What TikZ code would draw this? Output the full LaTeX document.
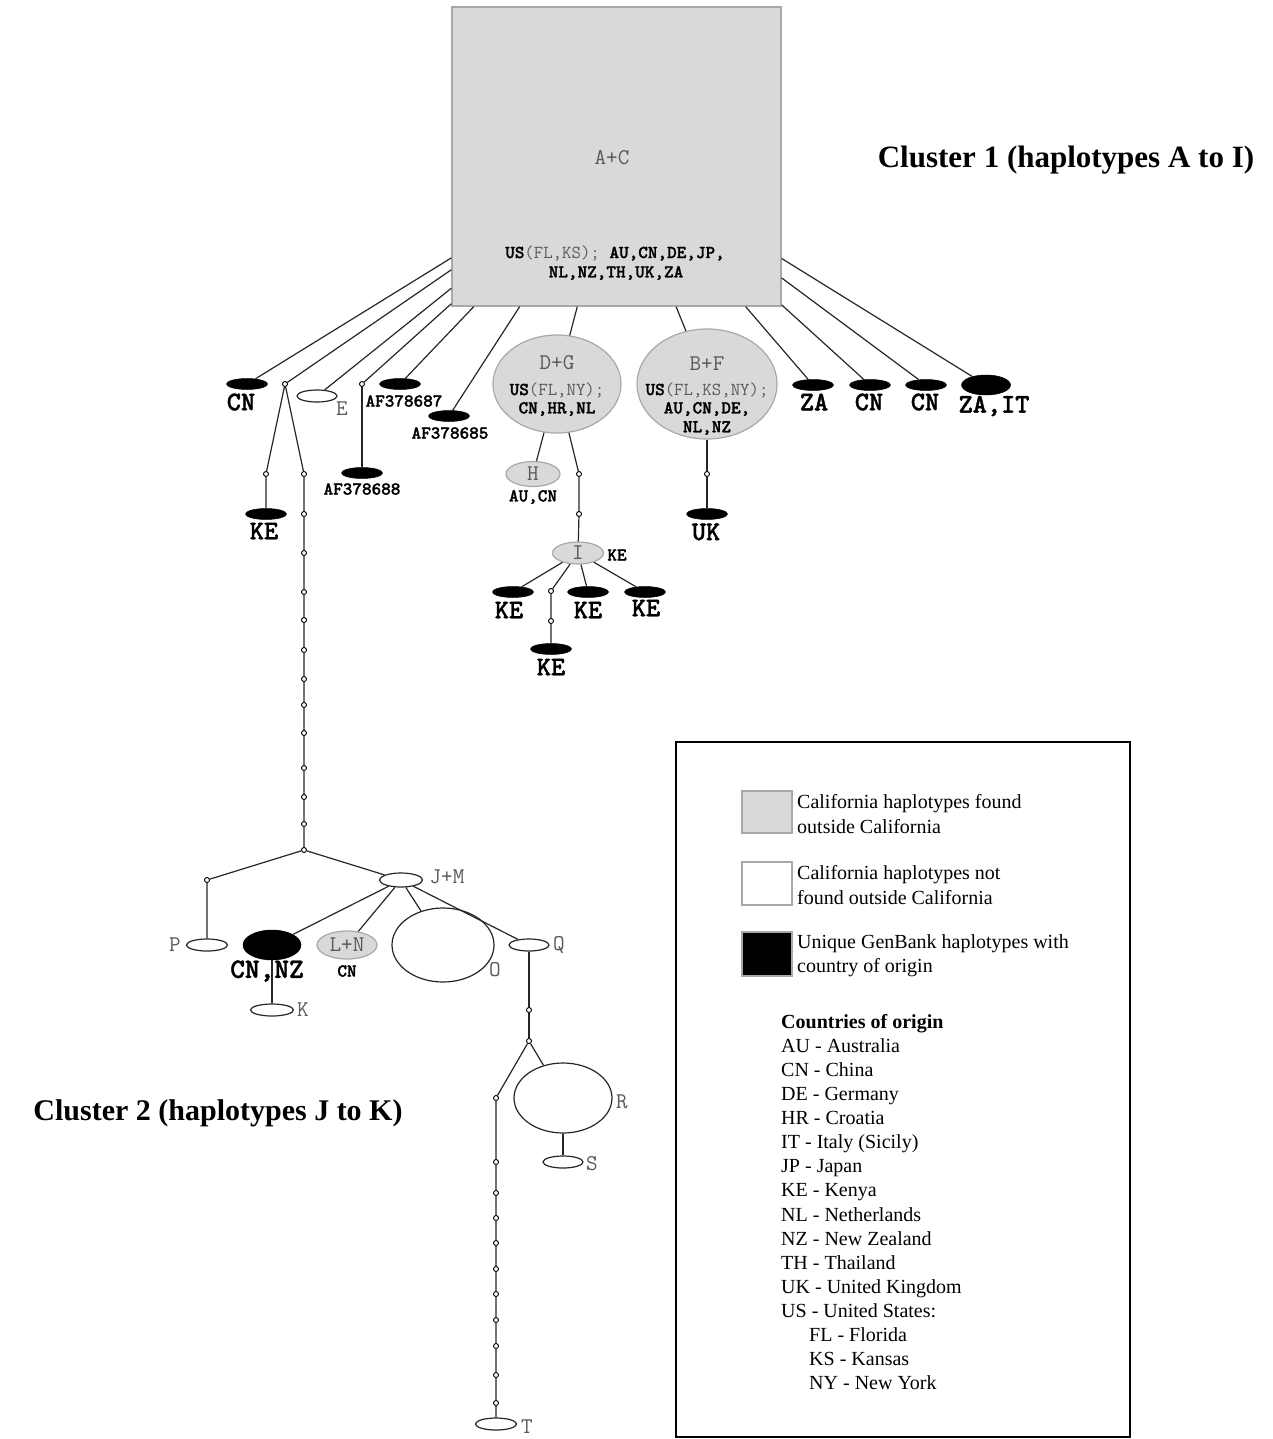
\documentclass[tikz,border=0pt]{standalone}
\usepackage{fontspec}
\setmainfont{Liberation Serif}
\newfontfamily\ttbf{lmmonolt10-bold.otf}[FakeBold=1.4]
\usetikzlibrary{shapes.geometric}
\definecolor{hfill}{HTML}{D9D9D9}
\definecolor{hborder}{HTML}{A8A8A8}
\definecolor{hapgray}{HTML}{5A5A5A}
\newcommand\mybig{\ttbf\fontsize{27}{29}\selectfont}
\newcommand\mysmall{\ttbf\fontsize{18.3}{21}\selectfont}
\newcommand\myhap{\ttfamily\mdseries\fontsize{22.5}{24}\selectfont}
\newcommand\myleg{\rmfamily\fontsize{20}{24.2}\selectfont}
\newcommand\myclus{\rmfamily\bfseries\fontsize{30}{34}\selectfont}
\newcommand\gr[1]{{\ttfamily\mdseries\color{hapgray}#1}}
\begin{document}
\begin{tikzpicture}[x=1pt,y=-1pt,
  ln/.style={line width=1.2pt, draw=black!85},
  hg/.style 2 args={ellipse, draw=hborder, fill=hfill, line width=1.2pt, inner sep=0pt, minimum width=#1, minimum height=#2},
  hw/.style 2 args={ellipse, draw=black!85, fill=white, line width=1.2pt, inner sep=0pt, minimum width=#1, minimum height=#2},
  hb/.style 2 args={ellipse, draw=black, fill=black, line width=0.5pt, inner sep=0pt, minimum width=#1, minimum height=#2},
  vdot/.style={circle, draw=black, fill=white, line width=0.9pt, inner sep=0pt, minimum size=5pt},
  hlab/.style={font=\myhap, text=hapgray, inner sep=0pt},
  cbig/.style={font=\mybig, inner sep=0pt},
  csm/.style={font=\mysmall, inner sep=0pt},
  legt/.style={font=\myleg, anchor=west, align=left, inner sep=0pt},
  legbox/.style={line width=2pt, draw=hborder}
]
\useasboundingbox (0,0) rectangle (1273,1439);

% ---------- central square A+C ----------
\node[draw=hborder, fill=hfill, line width=1.3pt, minimum width=329pt, minimum height=299pt, inner sep=0pt] (AC) at (616.5,156.5) {};
\node[hlab] (tAC) at (612,158) {A+C};
\node[csm] (tAC1) at (615,253) {US\gr{(FL,KS);} AU,CN,DE,JP,};
\node[csm] (tAC2) at (616,273) {NL,NZ,TH,UK,ZA};

% ---------- left spokes ----------
\node[hb={41pt}{11pt}] (CN1) at (247,384) {};
\node[cbig] (tCN1) at (241,402) {CN};
\node[vdot] (d1) at (285,384) {};
\node[hw={40pt}{12pt}] (E) at (317,396) {};
\node[hlab] (tE) at (342,409) {E};
\node[vdot] (d2) at (362,384) {};
\node[hb={41pt}{11pt}] (AF7) at (400,384) {};
\node[csm] (tAF7) at (404,401) {AF378687};
\node[hb={41pt}{11pt}] (AF5) at (449,416) {};
\node[csm] (tAF5) at (450,433) {AF378685};
\node[hb={41pt}{11pt}] (AF8) at (362,473) {};
\node[csm] (tAF8) at (362,489) {AF378688};

% ---------- D+G ----------
\node[hg={128pt}{98pt}] (DG) at (557,384) {};
\node[hlab] (tDG) at (557,363) {D+G};
\node[csm] (tDG1) at (557,390) {US\gr{(FL,NY);}};
\node[csm] (tDG2) at (557,409) {CN,HR,NL};
\node[hg={54pt}{25pt}] (H) at (533,474) {};
\node[hlab] (tH) at (533,474) {H};
\node[csm] (tH1) at (533,497) {AU,CN};
\node[vdot] (dI1) at (579,474) {};
\node[vdot] (dI2) at (579,514) {};
\node[hg={51pt}{22pt}] (I) at (578,553) {};
\node[hlab] (tI) at (578,553) {I};
\node[csm] (tI1) at (617,555) {KE};
\node[hb={41pt}{11pt}] (KEa) at (513,592) {};
\node[cbig] (tKEa) at (509,610) {KE};
\node[vdot] (dK1) at (551,591) {};
\node[vdot] (dK2) at (551,621) {};
\node[hb={41pt}{11pt}] (KEb) at (551,649) {};
\node[cbig] (tKEb) at (551,667) {KE};
\node[hb={41pt}{11pt}] (KEc) at (588,592) {};
\node[cbig] (tKEc) at (588,610) {KE};
\node[hb={41pt}{11pt}] (KEd) at (645,592) {};
\node[cbig] (tKEd) at (646,608) {KE};

% ---------- B+F ----------
\node[hg={140pt}{110pt}] (BF) at (707,384) {};
\node[hlab] (tBF) at (707,364) {B+F};
\node[csm] (tBF1) at (707,390) {US\gr{(FL,KS,NY);}};
\node[csm] (tBF2) at (707,409) {AU,CN,DE,};
\node[csm] (tBF3) at (707,428) {NL,NZ};
\node[vdot] (dU) at (707,474) {};
\node[hb={41pt}{11pt}] (UK) at (707,514) {};
\node[cbig] (tUK) at (706,532) {UK};

% ---------- right spokes ----------
\node[hb={41pt}{11pt}] (ZA) at (813,385) {};
\node[cbig] (tZA) at (814,402) {ZA};
\node[hb={41pt}{11pt}] (CN2) at (870,385) {};
\node[cbig] (tCN2) at (869,402) {CN};
\node[hb={41pt}{11pt}] (CN3) at (926,385) {};
\node[cbig] (tCN3) at (925,402) {CN};
\node[hb={49pt}{20pt}] (ZAIT) at (986,385) {};
\node[cbig] (tZAIT) at (994,406) {ZA,IT};

% ---------- long chain on the left ----------
\node[vdot] (dk1) at (266,474) {};
\node[hb={41pt}{11pt}] (KEl) at (266,514) {};
\node[cbig] (tKEl) at (264,531) {KE};
\node[vdot] (dr1) at (304,474) {};
\foreach \yy [count=\i] in {514,553,592,620,650,679,705,733,768,797,824}
  \node[vdot] (c\i) at (304,\yy) {};
\node[vdot] (dj) at (304,850) {};

% ---------- cluster 2 ----------
\node[vdot] (dP) at (207,880) {};
\node[hw={41pt}{12pt}] (P) at (207,945) {};
\node[hlab] (tP) at (175,945) {P};
\node[hw={43pt}{14pt}] (JM) at (401,880) {};
\node[hlab] (tJM) at (447,877) {J+M};
\node[hb={58pt}{30pt}] (CNNZ) at (272,945) {};
\node[cbig, font=\ttbf\fontsize{28}{30}\selectfont] (tCNNZ) at (267,971) {CN,NZ};
\node[hw={43pt}{12pt}] (K) at (272,1010) {};
\node[hlab] (tK) at (303,1010) {K};
\node[hg={60pt}{28pt}] (LN) at (347,945) {};
\node[hlab] (tLN) at (347,945) {L+N};
\node[csm] (tLN1) at (347,971) {CN};
\node[hw={102pt}{74pt}] (O) at (443,945) {};
\node[hlab] (tO) at (495,970) {O};
\node[hw={40pt}{12pt}] (Q) at (529,945) {};
\node[hlab] (tQ) at (559,945) {Q};
\node[vdot] (dQ1) at (529,1010) {};
\node[vdot] (dQ2) at (529,1041) {};
\node[hw={98pt}{70pt}] (R) at (563,1098) {};
\node[hlab] (tR) at (622,1102) {R};
\node[hw={40pt}{12pt}] (S) at (563,1162) {};
\node[hlab] (tS) at (592,1164) {S};
\foreach \yy [count=\i] in {1098,1162,1193,1218,1243,1269,1294,1320,1346,1375,1403}
  \node[vdot] (t\i) at (496,\yy) {};
\node[hw={41pt}{12pt}] (T) at (496,1424) {};
\node[hlab] (tT) at (527,1427) {T};

% ---------- connectors ----------
\foreach \n in {CN1,d1,E,d2,AF7,AF5,DG,BF,ZA,CN2,CN3,ZAIT}
  \draw[ln] (AC) -- (\n);
\draw[ln] (d2) -- (AF8);
\draw[ln] (DG) -- (H);
\draw[ln] (DG) -- (dI1) -- (dI2) -- (I);
\draw[ln] (I) -- (KEa);
\draw[ln] (I) -- (dK1) -- (dK2) -- (KEb);
\draw[ln] (I) -- (KEc);
\draw[ln] (I) -- (KEd);
\draw[ln] (BF) -- (dU) -- (UK);
\draw[ln] (d1) -- (dk1) -- (KEl);
\draw[ln] (d1) -- (dr1) -- (c1) -- (c2) -- (c3) -- (c4) -- (c5) -- (c6) -- (c7) -- (c8) -- (c9) -- (c10) -- (c11) -- (dj);
\draw[ln] (dj) -- (dP) -- (P);
\draw[ln] (dj) -- (JM);
\draw[ln] (JM) -- (CNNZ);
\draw[ln] (CNNZ) -- (K);
\draw[ln] (JM) -- (LN);
\draw[ln] (JM) -- (O);
\draw[ln] (JM) -- (Q);
\draw[ln] (Q) -- (dQ1) -- (dQ2);
\draw[ln] (dQ2) -- (R);
\draw[ln] (R) -- (S);
\draw[ln] (dQ2) -- (t1) -- (t2) -- (t3) -- (t4) -- (t5) -- (t6) -- (t7) -- (t8) -- (t9) -- (t10) -- (t11) -- (T);

% ---------- cluster labels ----------
\node[font=\myclus\fontsize{31}{34}\selectfont, inner sep=0pt] (cl1) at (1066,160) {Cluster 1 (haplotypes A to I)};
\node[font=\myclus, inner sep=0pt] (cl2) at (218,1113) {Cluster 2 (haplotypes J to K)};

% ---------- legend ----------
\node[draw=black, line width=1.5pt, minimum width=454pt, minimum height=695pt, inner sep=0pt] (leg) at (903,1089.5) {};
\node[legbox, fill=hfill, minimum width=50pt, minimum height=42pt, inner sep=0pt] (lg1) at (767,812) {};
\node[legt] (lt1) at (797,814) {California haplotypes found\\outside California};
\node[legbox, fill=white, minimum width=50pt, minimum height=43pt, inner sep=0pt] (lg2) at (767,883.5) {};
\node[legt] (lt2) at (797,885) {California haplotypes not\\found outside California};
\node[legbox, fill=black, minimum width=50pt, minimum height=44pt, inner sep=0pt] (lg3) at (767,954) {};
\node[legt] (lt3) at (797,956) {Unique GenBank haplotypes with\\country of origin};
\node[font=\myleg\bfseries, anchor=base west, inner sep=0pt] (lc0) at (781,1028) {Countries of origin};
\foreach \txt [count=\i] in {AU - Australia, CN - China, DE - Germany, HR - Croatia, IT - Italy (Sicily), JP - Japan, KE - Kenya, NL - Netherlands, NZ - New Zealand, TH - Thailand, UK - United Kingdom, US - United States:}
  \node[font=\myleg, anchor=base west, inner sep=0pt] (lc\i) at (781,{1028+\i*24.13}) {\txt};
\foreach \txt [count=\i from 13] in {FL - Florida, KS - Kansas, NY - New York}
  \node[font=\myleg, anchor=base west, inner sep=0pt] (lc\i) at (809,{1028+\i*24.13}) {\txt};
\end{tikzpicture}
\end{document}
